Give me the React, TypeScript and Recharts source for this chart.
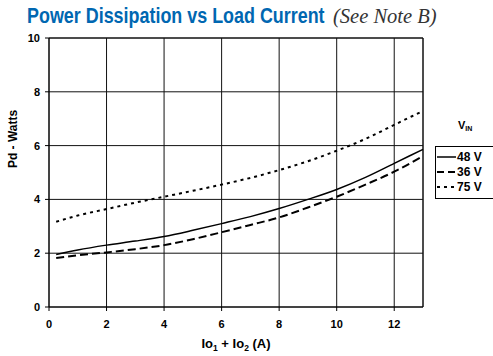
import React from "react";
import { LineChart, Line, XAxis, YAxis, CartesianGrid, ReferenceLine } from "recharts";

const loadCurrent = [0.25, 1, 2, 3, 4, 5, 6, 7, 8, 9, 10, 11, 12, 13];
const pd48 = [1.95, 2.12, 2.3, 2.45, 2.62, 2.85, 3.1, 3.36, 3.66, 4.0, 4.37, 4.82, 5.34, 5.86];
const pd36 = [1.82, 1.92, 2.03, 2.15, 2.3, 2.52, 2.78, 3.05, 3.33, 3.7, 4.1, 4.55, 5.03, 5.61];
const pd75 = [3.17, 3.4, 3.64, 3.88, 4.1, 4.32, 4.55, 4.8, 5.09, 5.42, 5.81, 6.25, 6.77, 7.29];
const xTicks = [0, 2, 4, 6, 8, 10, 12];
const yTicks = [0, 2, 4, 6, 8, 10];
const seriesNames = ["48 V", "36 V", "75 V"];
const seriesDash = ["", "8 4", "3 4"];

const data = loadCurrent.map((x, i) => ({ x, v48: pd48[i], v36: pd36[i], v75: pd75[i] }));

const tickStyle = { fontFamily: "'Liberation Sans', Arial, sans-serif", fontSize: 11, fontWeight: 700, fill: "#000" };

export default function App() {
  return (
    <div style={{ position: "absolute", left: 0, top: 0, width: 493, height: 356, background: "#fff", overflow: "hidden" }}>
      <LineChart width={493} height={356} data={data} margin={{ top: 38, right: 70, bottom: 0, left: 0 }}>
        <CartesianGrid stroke="#111" strokeWidth={1} horizontal vertical />
        <XAxis
          dataKey="x"
          type="number"
          domain={[0, 13]}
          ticks={xTicks}
          tickSize={4}
          tickMargin={9}
          height={49}
          tick={tickStyle}
          axisLine={{ stroke: "#000" }}
          tickLine={{ stroke: "#000" }}
        />
        <YAxis
          type="number"
          domain={[0, 10]}
          ticks={yTicks}
          tickSize={4}
          tickMargin={5}
          width={49}
          tick={tickStyle}
          axisLine={{ stroke: "#000" }}
          tickLine={{ stroke: "#000" }}
        />
        <ReferenceLine x={13} stroke="#111" strokeWidth={1} />
        <ReferenceLine y={10} stroke="#111" strokeWidth={1} />
        <Line dataKey="v48" stroke="#000" strokeWidth={1.5} dot={false} type="monotone" isAnimationActive={false} />
        <Line dataKey="v36" stroke="#000" strokeWidth={2} strokeDasharray={seriesDash[1]} dot={false} type="monotone" isAnimationActive={false} />
        <Line dataKey="v75" stroke="#000" strokeWidth={2} strokeDasharray={seriesDash[2]} dot={false} type="monotone" isAnimationActive={false} />
      </LineChart>
      <svg width={493} height={356} style={{ position: "absolute", left: 0, top: 0, pointerEvents: "none" }}>
        <text
          transform="translate(27,23) scale(0.815,1)"
          fontFamily="'Liberation Sans', Arial, sans-serif"
          fontWeight={700}
          fontSize={22}
          fill="#0067b1"
        >
          Power Dissipation vs Load Current
        </text>
        <text
          x={333}
          y={23}
          fontFamily="'Liberation Serif', 'Times New Roman', serif"
          fontStyle="italic"
          fontSize={20.5}
          fill="#333"
        >
          (See Note B)
        </text>
        <text
          transform="translate(17,139) rotate(-90)"
          textAnchor="middle"
          fontFamily="'Liberation Sans', Arial, sans-serif"
          fontWeight={700}
          fontSize={12}
          fill="#000"
        >
          Pd - Watts
        </text>
        <text x={236} y={348} textAnchor="middle" fontFamily="'Liberation Sans', Arial, sans-serif" fontWeight={700} fontSize={13} fill="#000">
          Io<tspan fontSize={8.5} dy={3}>1</tspan>
          <tspan dy={-3}> + Io</tspan>
          <tspan fontSize={8.5} dy={3}>2</tspan>
          <tspan dy={-3}>{"  (A)"}</tspan>
        </text>
        <text x={458} y={129} fontFamily="'Liberation Sans', Arial, sans-serif" fontWeight={700} fontSize={11} fill="#000">
          V<tspan fontSize={7} dy={2}>IN</tspan>
        </text>
        <rect x={435.5} y={146.5} width={70} height={52} fill="#fff" stroke="#000" strokeWidth={1} />
        {seriesNames.map((name, i) => (
          <g key={name}>
            <line
              x1={437}
              x2={456}
              y1={157 + i * 15}
              y2={157 + i * 15}
              stroke="#000"
              strokeWidth={i === 0 ? 1.5 : 2}
              strokeDasharray={i === 1 ? "7 4" : i === 2 ? "3 4" : undefined}
            />
            <text x={457} y={161 + i * 15} fontFamily="'Liberation Sans', Arial, sans-serif" fontWeight={700} fontSize={12} fill="#000">
              {name}
            </text>
          </g>
        ))}
      </svg>
    </div>
  );
}
